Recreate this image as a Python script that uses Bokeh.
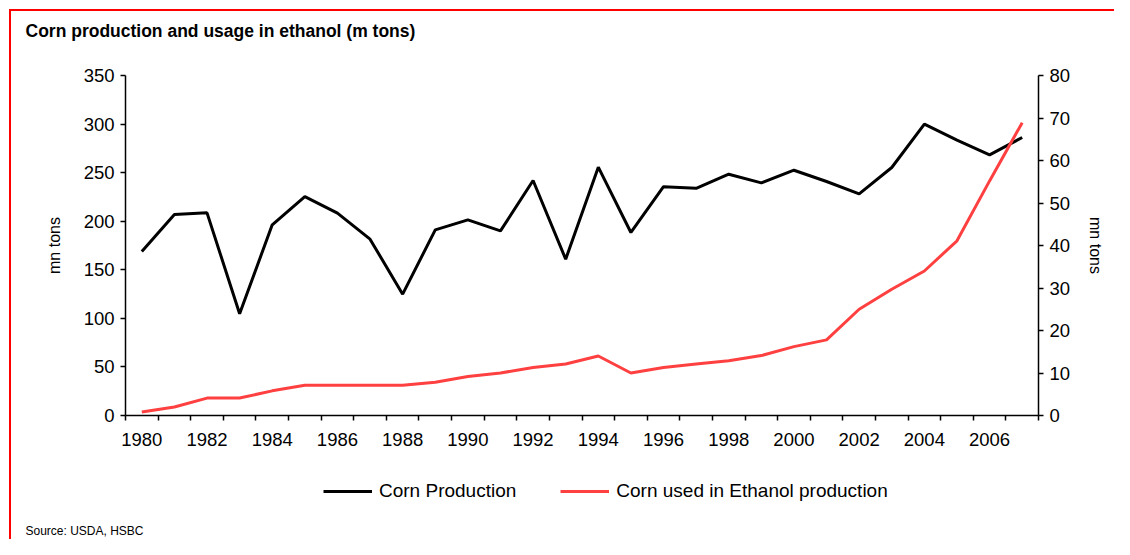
from bokeh.plotting import figure
from bokeh.layouts import column
from bokeh.models import Range1d, LinearAxis, FixedTicker, Legend, LegendItem, Title
from bokeh.embed import file_html
from bokeh.resources import INLINE

# ---- data ----
years = list(range(1980, 2008))
corn_production = [168.8, 206.9, 208.6, 104.7, 196.3, 225.4, 208.3, 181.5, 124.9, 191.1,
                   201.4, 190.1, 241.9, 160.9, 255.6, 188.4, 235.6, 233.9, 248.4, 239.5,
                   252.5, 240.9, 228.2, 255.3, 299.9, 283.4, 268.3, 286.2]
corn_ethanol = [0.8, 2.0, 4.1, 4.1, 5.8, 7.1, 7.1, 7.1, 7.1, 7.8,
                9.2, 10.0, 11.3, 12.1, 14.0, 10.0, 11.3, 12.1, 12.9, 14.1,
                16.2, 17.8, 25.0, 29.7, 34.0, 41.1, 55.2, 68.9]
x_tick_labels = list(range(1980, 2007, 2))
left_ticks = [0, 50, 100, 150, 200, 250, 300, 350]
right_ticks = [0, 10, 20, 30, 40, 50, 60, 70, 80]
series_names = ["Corn Production", "Corn used in Ethanol production"]
title_text = "Corn production and usage in ethanol (m tons)"
source_text = "Source: USDA, HSBC"
axis_title = "mn tons"

RED = "#FF4040"
FONT = "Liberation Sans"


def blank_strip(height):
    f = figure(width=1103, height=height, output_backend="svg", toolbar_location=None,
               x_axis_type=None, y_axis_type=None, min_border=0,
               x_range=Range1d(0, 1), y_range=Range1d(0, 1),
               outline_line_color=None, border_fill_color="white", background_fill_color="white")
    f.xgrid.visible = False
    f.ygrid.visible = False
    return f


# ---- title strip ----
t = blank_strip(44)
t.add_layout(Title(text=title_text, align="left", offset=-100, standoff=18, vertical_align="top",
                   text_font=FONT, text_font_style="bold", text_font_size="17.5px",
                   text_color="black"), "above")

# ---- main chart ----
p = figure(width=1103, height=410, output_backend="svg", toolbar_location=None,
           x_range=Range1d(years[0] - 0.5, years[-1] + 0.5),
           y_range=Range1d(left_ticks[0], left_ticks[-1]),
           min_border_left=114, min_border_right=76, min_border_top=20, min_border_bottom=50,
           outline_line_color=None, border_fill_color="white", background_fill_color="white")
p.xgrid.visible = False
p.ygrid.visible = False

p.extra_y_ranges = {"right": Range1d(right_ticks[0], right_ticks[-1])}
raxis = LinearAxis(y_range_name="right")
p.add_layout(raxis, "right")

boundaries = [y - 0.5 for y in years] + [years[-1] + 0.5]
p.xaxis.ticker = FixedTicker(ticks=x_tick_labels, minor_ticks=boundaries)
p.yaxis[0].ticker = FixedTicker(ticks=left_ticks)
raxis.ticker = FixedTicker(ticks=right_ticks)

for ax in [p.xaxis[0], p.yaxis[0], raxis]:
    ax.axis_line_color = "black"
    ax.axis_line_width = 1.5
    ax.major_tick_line_color = "black"
    ax.major_tick_line_width = 1.5
    ax.major_tick_in = 0
    ax.major_tick_out = 5
    ax.minor_tick_line_color = None
    ax.major_label_text_font = FONT
    ax.major_label_text_font_size = "18.5px"
    ax.major_label_text_color = "black"
    ax.major_label_standoff = 6
    ax.axis_label_text_font = FONT
    ax.axis_label_text_font_size = "16px"
    ax.axis_label_text_font_style = "normal"
    ax.axis_label_text_color = "black"
    ax.axis_label_standoff = 14

p.yaxis[0].axis_label_standoff = 18

xa = p.xaxis[0]
xa.major_tick_line_color = None
xa.major_tick_out = 0
xa.minor_tick_line_color = "black"
xa.minor_tick_line_width = 1.5
xa.minor_tick_in = 0
xa.minor_tick_out = 5
xa.major_label_standoff = 12

p.yaxis[0].axis_label = axis_title
raxis.axis_label = axis_title

p.line(years, corn_production, line_color="black", line_width=3)
p.line(years, corn_ethanol, y_range_name="right", line_color=RED, line_width=3)

# ---- legend / source strip (series drawn off-view; only their legend entries show) ----
q = blank_strip(74)
k1 = q.line(years, corn_production, line_color="black", line_width=3)
k2 = q.line(years, corn_ethanol, line_color=RED, line_width=3)
legend = Legend(items=[LegendItem(label=series_names[0], renderers=[k1]),
                       LegendItem(label=series_names[1], renderers=[k2])],
                orientation="horizontal", location=(198, 17),
                glyph_width=49, glyph_height=20, label_standoff=7, spacing=44,
                padding=0, margin=0, border_line_color=None, background_fill_alpha=0,
                label_text_font=FONT, label_text_font_size="19px", label_text_color="black")
q.add_layout(legend, "center")
q.add_layout(Title(text=source_text, align="left", offset=-100, standoff=4,
                   text_font=FONT, text_font_style="normal", text_font_size="12px",
                   text_color="black"), "below")

layout = column(t, p, q, spacing=0,
                styles={"border-top": "2px solid #FF0000", "border-left": "2px solid #FF0000",
                        "margin-top": "9px", "margin-left": "9px"})

open("out.html", "w").write(file_html(layout, INLINE))
